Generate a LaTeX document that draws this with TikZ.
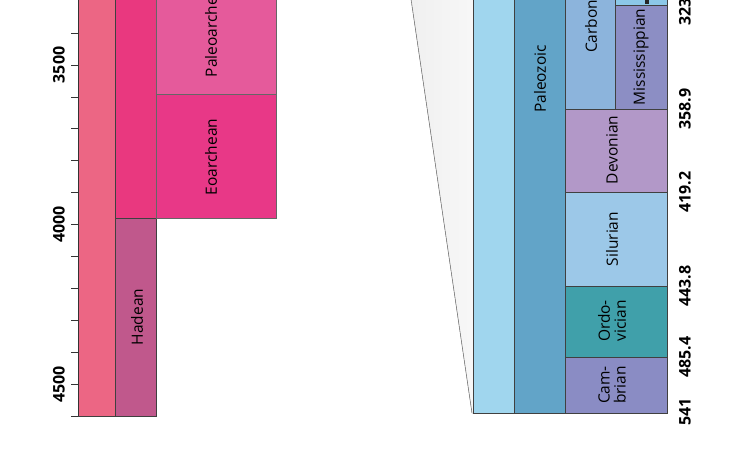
\documentclass[tikz,border=0pt]{standalone}
\usepackage{fontspec}
\setmainfont{Open Sans}
\usepackage{tikz}
\usetikzlibrary{
  positioning,
  calc
}
\definecolor{precambrian}{HTML}{EC6684}
\definecolor{archean}{HTML}{E9387F}
\definecolor{hadean}{HTML}{C0588C}
\definecolor{paleoarchean}{HTML}{E55A9B}
\definecolor{eoarchean}{HTML}{E83887}
\definecolor{phanerozoic}{HTML}{A0D6EE}
\definecolor{paleozoic}{HTML}{62A4C8}
\definecolor{carboniferous}{HTML}{8CB4DC}
\definecolor{pennsylvanian}{HTML}{8CC8E8}
\definecolor{mississippian}{HTML}{8C8EC4}
\definecolor{devonian}{HTML}{B298C8}
\definecolor{silurian}{HTML}{9CC8E8}
\definecolor{ordovician}{HTML}{40A0AA}
\definecolor{cambrian}{HTML}{8A8CC4}
\tikzstyle{unit}=[draw=black!75, line width=0.7pt]
\tikzstyle{unitname}=[rotate=90, inner sep=0pt, align=center, font=\fontsize{15.5}{16}\selectfont]
\tikzstyle{agename}=[rotate=90, inner sep=0pt, font=\bfseries\fontsize{16}{17}\selectfont]

\begin{document}
\begin{tikzpicture}[x=1pt, y=-1pt]
    \def\axisx{78};
    \def\age#1{224.6+(#1-4000)*0.3192}

    \useasboundingbox (0,0) rectangle (741,453);
    \clip (0,0) rectangle (741,453);

    % 先カンブリア時代
    \filldraw[unit, fill=precambrian] (78,-5) rectangle (115,416);
    \filldraw[unit, fill=archean] (115,-5) rectangle (156,218);
    \filldraw[unit, fill=hadean] (115,218) rectangle (156,416);
    \filldraw[unit, draw=black!60, fill=paleoarchean] (156,-5) rectangle (276,94);
    \filldraw[unit, draw=black!60, fill=eoarchean] (156,94) rectangle (276,218);

    \node[unitname] (paleoarchean) at (211,28) {Paleoarchean};
    \node[unitname] (eoarchean) at (211,157) {Eoarchean};
    \node[unitname] (hadean) at (137,317) {Hadean};

    % 目盛り
    \draw[black!80, line width=0.8pt] (\axisx,-5) -- (\axisx,416);
    \foreach \t in {3400,3500,...,4600}
      \draw[black!80, line width=0.8pt] (71,{\age{\t}}) -- (\axisx,{\age{\t}});
    \foreach \t in {3500,4000,4500}
      \node[agename] (tick\t) at (59,{\age{\t}}) {\t};

    % 拡大部分
    \fill[left color=gray!12, right color=gray!6] (411,-1) -- (473,-1) -- (473,413) -- (472,413) -- cycle;
    \draw[gray, line width=0.6pt] (411,-1) -- (472,413);

    % 古生代
    \filldraw[unit, fill=phanerozoic] (473,-5) rectangle (514,413);
    \filldraw[unit, fill=paleozoic] (514,-5) rectangle (565,413);
    \filldraw[unit, fill=carboniferous] (565,-5) rectangle (615,109);
    \filldraw[unit, fill=pennsylvanian] (615,-5) rectangle (667,5);
    \filldraw[unit, fill=mississippian] (615,5) rectangle (667,109);
    \filldraw[unit, fill=devonian] (565,109) rectangle (667,192);
    \filldraw[unit, fill=silurian] (565,192) rectangle (667,286);
    \filldraw[unit, fill=ordovician] (565,286) rectangle (667,357);
    \filldraw[unit, fill=cambrian] (565,357) rectangle (667,413);
    \fill[black!85] (645,-1) rectangle (649,4);

    \node[unitname] (paleozoic) at (540,79) {Paleozoic};
    \node[unitname, anchor=west] (carboniferous) at (591,53) {Carboniferous};
    \node[unitname] (mississippian) at (641,57) {Mississippian};
    \node[unitname] (devonian) at (612,150) {Devonian};
    \node[unitname] (silurian) at (612,239) {Silurian};
    \node[unitname] (ordovician) at (612,321) {Ordo-\\vician};
    \node[unitname] (cambrian) at (612,385) {Cam-\\brian};

    % 境界の年代
    \node[agename] (b323) at (685,5) {323.2};
    \node[agename] (b358) at (685,109) {358.9};
    \node[agename] (b419) at (685,192) {419.2};
    \node[agename] (b443) at (685,286) {443.8};
    \node[agename] (b485) at (685,357) {485.4};
    \node[agename] (b541) at (685,412) {541};
  \end{tikzpicture}
\end{document}
